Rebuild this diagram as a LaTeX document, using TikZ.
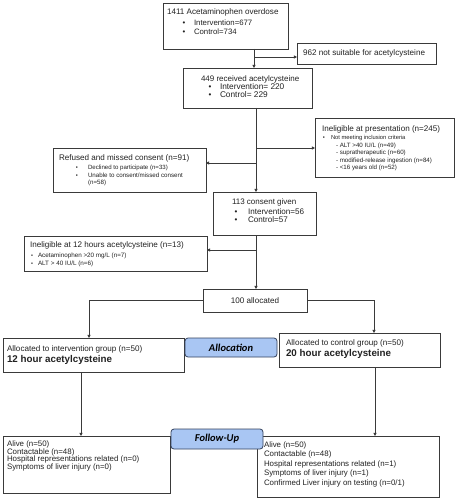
\documentclass[tikz,border=0pt]{standalone}
\usepackage{fontspec}
\setmainfont{Liberation Sans}
\newfontfamily\pillfont{Carlito}
\usetikzlibrary{arrows.meta}
\definecolor{linec}{HTML}{3A3A3A}
\definecolor{textc}{HTML}{222222}
\definecolor{pillfill}{HTML}{A9C6F3}
\definecolor{pilldraw}{HTML}{34425E}
\newcommand{\fsz}[1]{\fontsize{#1}{#1}\selectfont}
\begin{document}
\begin{tikzpicture}[x=1pt,y=-1pt,
  box/.style={draw=linec, line width=0.8pt, inner sep=0pt, outer sep=0pt, anchor=north west},
  pill/.style={draw=pilldraw, fill=pillfill, line width=0.8pt, rounded corners=3pt, inner sep=0pt, outer sep=0pt, anchor=center, text=black, font={\pillfont\bfseries\itshape\fsz{10.5}}},
  txt/.style={anchor=base west, inner sep=0pt, outer sep=0pt, text=textc},
  bul/.style={anchor=base, inner sep=0pt, outer sep=0pt, text=textc},
  arr/.style={draw=linec, line width=0.8pt, -{Triangle[length=3.2pt,width=3.2pt]}},
  ln/.style={draw=linec, line width=0.8pt}]
\useasboundingbox (0,0) rectangle (457,500);
\fill[white] (0,0) rectangle (457,500);

% boxes
\node[box, minimum width=125pt, minimum height=46pt] (b1) at (163,3) {};
\node[box, minimum width=139pt, minimum height=21pt] (b962) at (297,43) {};
\node[box, minimum width=129pt, minimum height=40pt] (b2) at (183,68) {};
\node[box, minimum width=139pt, minimum height=59pt] (bip) at (315,118) {};
\node[box, minimum width=153pt, minimum height=44pt] (bref) at (53,148) {};
\node[box, minimum width=103pt, minimum height=43pt] (b113) at (213,192) {};
\node[box, minimum width=183pt, minimum height=35pt] (b12) at (24,236) {};
\node[box, minimum width=104pt, minimum height=23pt] (b100) at (203,289) {};
\node[box, minimum width=181pt, minimum height=34pt] (bla) at (3,338) {};
\node[box, minimum width=161pt, minimum height=34pt] (bra) at (279,333) {};
\node[box, minimum width=167pt, minimum height=57pt] (blf) at (3,436) {};
\node[box, minimum width=182pt, minimum height=61pt] (brf) at (257,436) {};

% pills
\node[pill, minimum width=92pt, minimum height=19pt] (pal) at (231,347.5) {Allocation};
\node[pill, minimum width=92pt, minimum height=20pt] (pfu) at (217,439) {Follow-Up};

% box 1
\node[txt, font=\fsz{8.1}] (t1a) at (167,14.7) {1411 Acetaminophen overdose};
\node[bul, font=\fsz{7.8}] (t1b) at (184,25.6) {•};
\node[txt, font=\fsz{7.8}] (t1c) at (194,25.6) {Intervention=677};
\node[bul, font=\fsz{7.8}] (t1d) at (184,34.6) {•};
\node[txt, font=\fsz{7.8}] (t1e) at (194,34.6) {Control=734};

% 962
\node[txt, font=\fsz{8.1}] (t9) at (303,55.9) {962 not suitable for acetylcysteine};

% box 2
\node[txt, font=\fsz{8.0}] (t2a) at (201,81.4) {449 received acetylcysteine};
\node[bul, font=\fsz{8.0}] (t2b) at (210,89.5) {•};
\node[txt, font=\fsz{8.3}] (t2c) at (220,89.5) {Intervention= 220};
\node[bul, font=\fsz{8.0}] (t2d) at (210,97.5) {•};
\node[txt, font=\fsz{8.3}] (t2e) at (220,97.5) {Control= 229};

% ineligible at presentation
\node[txt, font=\fsz{8.1}] (tpa) at (322,131.4) {Ineligible at presentation (n=245)};
\node[bul, font=\fsz{5.8}] (tpb) at (324,139.8) {•};
\node[txt, font=\fsz{5.8}] (tpc) at (331,139.8) {Not meeting inclusion criteria};
\node[txt, font=\fsz{6.2}] (tpd) at (336,147.9) {- ALT >40 IU/L (n=49)};
\node[txt, font=\fsz{6.2}] (tpe) at (336,154.9) {- supratherapeutic (n=60)};
\node[txt, font=\fsz{6.2}] (tpf) at (336,162.9) {- modified-release ingestion (n=84)};
\node[txt, font=\fsz{6.2}] (tpg) at (336,169.9) {- <16 years old (n=52)};

% refused
\node[txt, font=\fsz{8.1}] (tra) at (59,160.4) {Refused and missed consent (n=91)};
\node[bul, font=\fsz{5.8}] (trb) at (77,169.8) {•};
\node[txt, font=\fsz{6.1}] (trc) at (88,169.8) {Declined to participate (n=33)};
\node[bul, font=\fsz{5.8}] (trd) at (77,177.8) {•};
\node[txt, font=\fsz{6.2}] (tre) at (88,177.8) {Unable to consent/missed consent};
\node[txt, font=\fsz{6.2}] (trf) at (88,184.8) {(n=58)};

% 113
\node[txt, font=\fsz{8.0}] (tca) at (232,204.4) {113 consent given};
\node[bul, font=\fsz{8.0}] (tcb) at (236,214.4) {•};
\node[txt, font=\fsz{8.1}] (tcc) at (248,214.4) {Intervention=56};
\node[bul, font=\fsz{8.0}] (tcd) at (236,222.4) {•};
\node[txt, font=\fsz{8.1}] (tce) at (248,222.4) {Control=57};

% ineligible at 12 h
\node[txt, font=\fsz{8.1}] (tha) at (30,247.4) {Ineligible at 12 hours acetylcysteine (n=13)};
\node[bul, font=\fsz{5.5}] (thb) at (32,257.9) {•};
\node[txt, font=\fsz{6.3}] (thc) at (38,257.9) {Acetaminophen >20 mg/L (n=7)};
\node[bul, font=\fsz{5.5}] (thd) at (32,265.9) {•};
\node[txt, font=\fsz{6.3}] (the) at (38,265.9) {ALT > 40 IU/L (n=6)};

% 100 allocated
\node[anchor=base, inner sep=0pt, text=textc, font=\fsz{8.1}] (tal) at (255,303.4) {100 allocated};

% allocation boxes
\node[txt, font=\fsz{8.1}] (tla) at (7,351.4) {Allocated to intervention group (n=50)};
\node[txt, font=\bfseries\fsz{9.8}] (tlb) at (7,362.9) {12 hour acetylcysteine};
\node[txt, font=\fsz{8.1}] (tra2) at (286,345.4) {Allocated to control group (n=50)};
\node[txt, font=\bfseries\fsz{9.8}] (trb2) at (286,356.9) {20 hour acetylcysteine};

% follow-up boxes
\node[txt, font=\fsz{7.9}] (tf1) at (7,446.4) {Alive (n=50)};
\node[txt, font=\fsz{7.9}] (tf2) at (7,454.4) {Contactable (n=48)};
\node[txt, font=\fsz{7.9}] (tf3) at (7,461.4) {Hospital representations related (n=0)};
\node[txt, font=\fsz{7.9}] (tf4) at (7,469.4) {Symptoms of liver injury (n=0)};
\node[txt, font=\fsz{7.9}] (tg1) at (264,447.4) {Alive (n=50)};
\node[txt, font=\fsz{7.9}] (tg2) at (264,456.4) {Contactable (n=48)};
\node[txt, font=\fsz{7.9}] (tg3) at (264,466.4) {Hospital representations related (n=1)};
\node[txt, font=\fsz{7.9}] (tg4) at (264,475.4) {Symptoms of liver injury (n=1)};
\node[txt, font=\fsz{7.9}] (tg5) at (264,485.4) {Confirmed Liver injury on testing (n=0/1)};

% connectors
\coordinate (c1) at (254,57);
\draw[arr] (c1 |- b1.south) -- (c1 |- b2.north);
\draw[arr] (c1) -- (c1 -| b962.west);
\coordinate (c2) at (256,148);
\coordinate (c3) at (256,163);
\draw[arr] (c2 |- b2.south) -- (c2 |- b113.north);
\draw[arr] (c2) -- (c2 -| bip.west);
\draw[arr] (c3) -- (c3 -| bref.east);
\coordinate (c4) at (256,250);
\draw[arr] (c4 |- b113.south) -- (c4 |- b100.north);
\draw[arr] (c4) -- (c4 -| b12.east);
\coordinate (c5) at (89,301);
\coordinate (c6) at (374,301);
\draw[arr] (b100.west) -| (c5 |- bla.north);
\draw[arr] (b100.east) -| (c6 |- bra.north);
\coordinate (c7) at (81,400);
\coordinate (c8) at (375,400);
\draw[arr] (c7 |- bla.south) -- (c7 |- blf.north);
\draw[arr] (c8 |- bra.south) -- (c8 |- brf.north);
\end{tikzpicture}
\end{document}
